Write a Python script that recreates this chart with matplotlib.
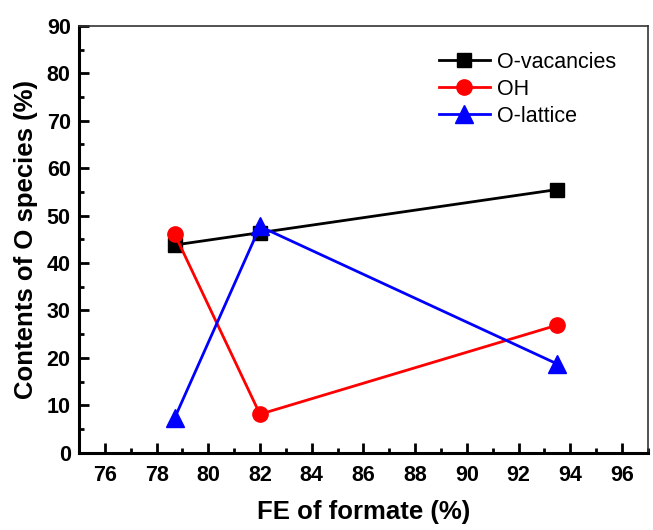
import matplotlib.pyplot as plt
from matplotlib.ticker import MultipleLocator

plt.rcParams['font.family'] = ['Liberation Sans', 'DejaVu Sans']

fe = [78.7, 82.0, 93.5]
o_vac = [43.8, 46.4, 55.5]
oh = [46.1, 8.1, 26.9]
o_lat = [7.3, 47.7, 18.7]

fig = plt.figure(figsize=(6.53, 5.3), dpi=100)
ax = fig.add_axes([0.121, 0.146, 0.871, 0.805])

ax.plot(fe, o_vac, color='black', lw=2, marker='s', ms=10, label='O-vacancies')
ax.plot(fe, oh, color='red', lw=2, marker='o', ms=11, label='OH')
ax.plot(fe, o_lat, color='blue', lw=2, marker='^', ms=13, label='O-lattice')

ax.set_xlim(75, 97)
ax.set_ylim(0, 90)
ax.xaxis.set_major_locator(MultipleLocator(2))
ax.xaxis.set_minor_locator(MultipleLocator(1))
ax.yaxis.set_major_locator(MultipleLocator(10))
ax.yaxis.set_minor_locator(MultipleLocator(5))
ax.tick_params(which='both', direction='in', width=2, top=False, right=False)
ax.tick_params(which='major', length=7, labelsize=15.5, pad=6)
ax.tick_params(axis='x', which='major', pad=9)
ax.tick_params(which='minor', length=3.5)
for lab in ax.get_xticklabels() + ax.get_yticklabels():
    lab.set_fontweight('bold')

ax.spines['left'].set_linewidth(2.2)
ax.spines['bottom'].set_linewidth(2.2)
ax.spines['top'].set_linewidth(1.2)
ax.spines['right'].set_linewidth(1.2)
ax.spines['top'].set_color('#333333')
ax.spines['right'].set_color('#333333')

ax.set_xlabel('FE of formate (%)', fontsize=18.5, fontweight='bold', labelpad=10)
ax.set_ylabel('Contents of O species (%)', fontsize=18.5, fontweight='bold', labelpad=6)

ax.legend(loc='upper right', bbox_to_anchor=(0.978, 0.985), frameon=False, fontsize=15.5,
          handlelength=2.4, handletextpad=0.3, labelspacing=0.28)

fig.savefig('out.png', dpi=100)
